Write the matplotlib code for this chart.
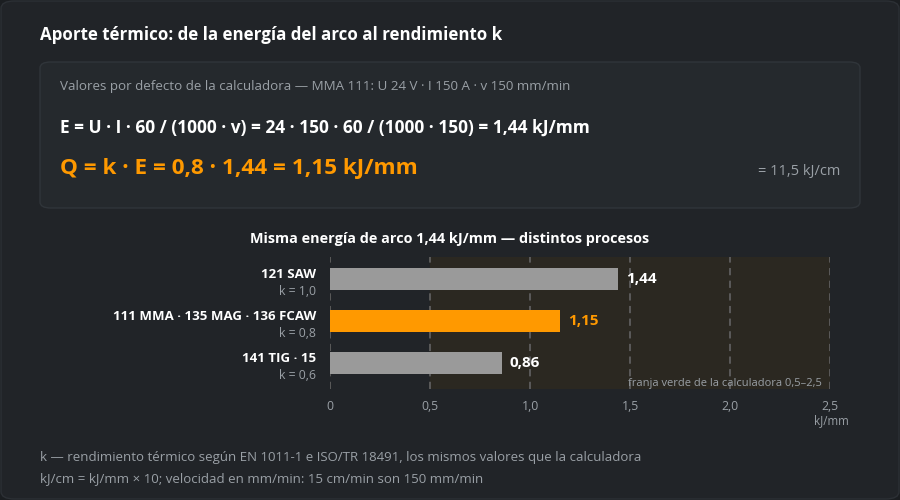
import matplotlib.pyplot as plt
from matplotlib.patches import FancyBboxPatch

# data
procesos = ['121 SAW', '111 MMA · 135 MAG · 136 FCAW', '141 TIG · 15']
k_labels = ['k = 1,0', 'k = 0,8', 'k = 0,6']
q_values = [1.44, 1.15, 0.86]
q_labels = ['1,44', '1,15', '0,86']
highlight = 1
ticks = [0, 0.5, 1.0, 1.5, 2.0, 2.5]
tick_labels = ['0', '0,5', '1,0', '1,5', '2,0', '2,5']
band = (0.5, 2.5)

BG = '#1b1e21'
CARD = '#212428'
ORANGE = '#ff9900'
GREY_BAR = '#9a9a9a'
MUTED = '#9aa0a6'

plt.rcParams['font.family'] = ['Open Sans', 'DejaVu Sans']

fig = plt.figure(figsize=(9, 5), dpi=100)
fig.patch.set_facecolor(BG)

def px(x, y):
    return x / 900, 1 - y / 500

# outer card
fig.patches.append(FancyBboxPatch(px(1, 499), 898 / 900, 498 / 500,
                                  boxstyle='round,pad=0,rounding_size=0.015',
                                  transform=fig.transFigure, fc=CARD, ec='#2c3035', lw=1,
                                  zorder=-2))
# formula box
fig.patches.append(FancyBboxPatch(px(40, 208), 820 / 900, 146 / 500,
                                  boxstyle='round,pad=0,rounding_size=0.012',
                                  transform=fig.transFigure, fc='#25292d', ec='#30353a', lw=1,
                                  zorder=-1))

fig.text(*px(40, 35), 'Aporte térmico: de la energía del arco al rendimiento k',
         color='white', fontsize=12.2, fontweight='bold', va='center')
fig.text(*px(60, 87), 'Valores por defecto de la calculadora — MMA 111: U 24 V · I 150 A · v 150 mm/min',
         color=MUTED, fontsize=9.6, va='center')
fig.text(*px(60, 128), 'E = U · I · 60 / (1000 · v) = 24 · 150 · 60 / (1000 · 150) = 1,44 kJ/mm',
         color='white', fontsize=12.5, fontweight='bold', va='center')
fig.text(*px(60, 168), 'Q = k · E = 0,8 · 1,44 = 1,15 kJ/mm',
         color=ORANGE, fontsize=16.2, fontweight='bold', va='center')
fig.text(*px(840, 171), '= 11,5 kJ/cm', color=MUTED, fontsize=10.5, va='center', ha='right')

# bar chart
ax = fig.add_axes([330 / 900, 1 - 389 / 500, 500 / 900, 132 / 500])
ax.set_zorder(2)
ax.set_facecolor('none')
ax.axvspan(*band, color='#2b2821', zorder=0)
for t in ticks:
    ax.axvline(t, color='#5e5e5e', ls=(0, (4, 3)), lw=1.3, zorder=1)

pos = list(range(len(procesos)))
colors = [ORANGE if i == highlight else GREY_BAR for i in pos]
ax.barh(pos, q_values, height=0.52, color=colors, zorder=2)
for i, (v, lab) in enumerate(zip(q_values, q_labels)):
    ax.text(v + 0.04, i, lab, va='center', ha='left', fontsize=11, fontweight='bold',
            color=ORANGE if i == highlight else 'white')

ax.set_xlim(0, 2.5)
ax.set_ylim(2.62, -0.52)
ax.set_xticks(ticks)
ax.set_xticklabels(tick_labels)
ax.set_yticks([])
ax.tick_params(axis='x', length=0, colors=MUTED, labelsize=8.8, pad=8)
for s in ax.spines.values():
    s.set_visible(False)

for i, (p, k) in enumerate(zip(procesos, k_labels)):
    ax.annotate(p, (0, i), xytext=(-10, 3), textcoords='offset points', ha='right', va='center',
                fontsize=9.5, fontweight='bold', color='white')
    ax.annotate(k, (0, i), xytext=(-10, -9), textcoords='offset points', ha='right', va='center',
                fontsize=8.8, color=MUTED)

ax.text(2.46, 2.5, 'franja verde de la calculadora 0,5–2,5', ha='right', va='center',
        fontsize=8, color=MUTED)
fig.text(*px(831, 421), 'kJ/mm', ha='center', va='center', fontsize=8.3, color=MUTED)
fig.text(*px(450, 239), 'Misma energía de arco 1,44 kJ/mm — distintos procesos',
         ha='center', va='center', fontsize=10.35, fontweight='bold', color='white')

fig.text(*px(40, 457), 'k — rendimiento térmico según EN 1011-1 e ISO/TR 18491, los mismos valores que la calculadora',
         color=MUTED, fontsize=9.5, va='center')
fig.text(*px(40, 479), 'kJ/cm = kJ/mm × 10; velocidad en mm/min: 15 cm/min son 150 mm/min',
         color=MUTED, fontsize=9.5, va='center')

fig.savefig('out.png', dpi=100, facecolor=BG)
